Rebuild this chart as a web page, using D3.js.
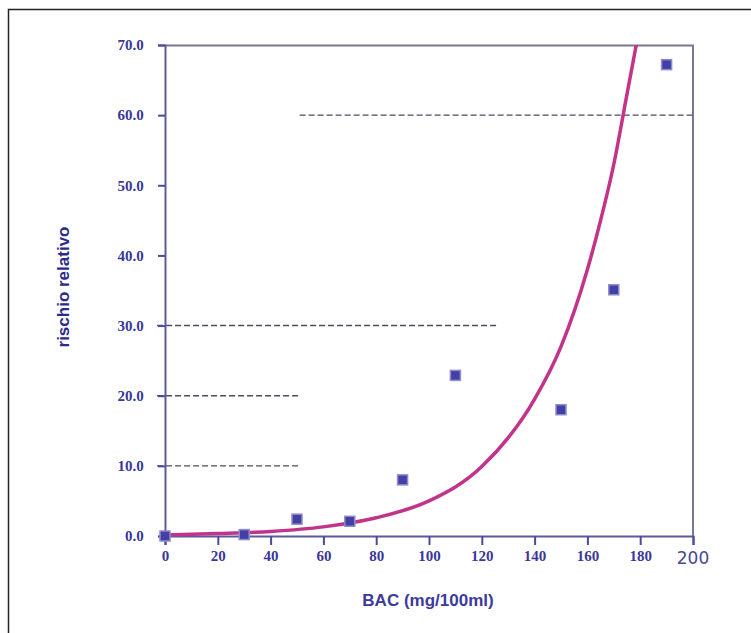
<!DOCTYPE html>
<html>
<head>
<meta charset="utf-8">
<script src="https://cdn.jsdelivr.net/npm/d3@7"></script>
<style>
  body { margin: 0; background: #fff; }
  svg { display: block; }
</style>
</head>
<body>
<svg width="751" height="633"></svg>
<script>
// measured points (BAC, relative risk)
var bac = [0, 30, 50, 70, 90, 110, 150, 170, 190];
var risk = [0, 0.2, 2.4, 2.1, 8.0, 22.9, 18.0, 35.1, 67.2];

// fitted curve
var curveX = [0, 20, 40, 60, 80, 100, 120, 140, 150, 160, 165, 170, 175, 180];
var curveY = [0.15, 0.35, 0.65, 1.3, 2.6, 5.0, 9.9, 19.5, 27, 38, 45, 53, 63, 73];

// dashed reference lines: level, from, to
var refLevel = [60, 30, 20, 10];
var refFrom = [51, -3, -3, -3];
var refTo = [200, 126, 51, 51];

var xTicks = [0, 20, 40, 60, 80, 100, 120, 140, 160, 180, 200];
var yTicks = [0, 10, 20, 30, 40, 50, 60, 70];

var svg = d3.select('svg');
var margin = {top: 45, left: 165, right: 58, bottom: 97};
var width = 751 - margin.left - margin.right;
var height = 633 - margin.top - margin.bottom;

// outer frame (runs off the page right and bottom)
svg.append('path')
  .attr('d', 'M8.5,640V9.5H760')
  .attr('fill', 'none')
  .attr('stroke', '#222')
  .attr('stroke-width', 1.5);

var g = svg.append('g')
  .attr('transform', 'translate(' + [margin.left, margin.top] + ')');

var x = d3.scaleLinear().domain([0, 200]).range([0, width]);
var y = d3.scaleLinear().domain([0, 70]).range([height, 0]);

g.append('clipPath').attr('id', 'clip')
  .append('rect').attr('x', -10).attr('y', 0).attr('width', width + 10).attr('height', height + 10);

// top and right borders
g.append('path')
  .attr('d', 'M0,0.5H' + width + 'V' + height)
  .attr('fill', 'none')
  .attr('stroke', '#7a7890')
  .attr('stroke-width', 2);

// dashed lines
refLevel.forEach(function(v, i) {
  g.append('line')
    .attr('x1', x(refFrom[i])).attr('x2', x(refTo[i]))
    .attr('y1', y(v)).attr('y2', y(v))
    .attr('stroke', '#4c4b60')
    .attr('stroke-width', 1.4)
    .attr('stroke-dasharray', '6,3');
});

// axes
var xAxis = d3.axisBottom(x).tickValues(xTicks).tickSize(9).tickFormat(function(d) { return d === 200 ? '' : d; });
var yAxis = d3.axisLeft(y).tickValues(yTicks).tickSize(7).tickFormat(d3.format('.1f'));

var gx = g.append('g').attr('transform', 'translate(0,' + height + ')').call(xAxis);
var gy = g.append('g').call(yAxis);

[gx, gy].forEach(function(a) {
  a.select('.domain').attr('stroke', '#5c5a9c').attr('stroke-width', 2);
  a.selectAll('.tick line').attr('stroke', '#4c4aa0').attr('stroke-width', 2);
  a.selectAll('.tick text')
    .attr('fill', '#3a3896')
    .style('font-family', '"Liberation Serif", serif')
    .style('font-weight', 'bold')
    .style('font-size', '15px');
});
gx.selectAll('.tick text').attr('dy', '0.85em');
gy.selectAll('.tick text').attr('dx', '-0.75em');

// "200" label in a different font
g.append('text')
  .attr('x', x(200))
  .attr('y', height + 28)
  .attr('text-anchor', 'middle')
  .attr('fill', '#4a4890')
  .style('font-family', '"DejaVu Sans", sans-serif')
  .style('font-size', '17px')
  .text('200');

// curve
var curveData = curveX.map(function(d, i) { return [d, curveY[i]]; });
g.append('path')
  .datum(curveData)
  .attr('clip-path', 'url(#clip)')
  .attr('fill', 'none')
  .attr('stroke', '#c2338a')
  .attr('stroke-width', 3.5)
  .attr('d', d3.line()
    .x(function(d) { return x(d[0]); })
    .y(function(d) { return y(d[1]); })
    .curve(d3.curveMonotoneX));

// points
var pts = bac.map(function(d, i) { return {x: d, y: risk[i]}; });
g.selectAll('rect.pt')
  .data(pts)
  .enter().append('rect')
  .attr('class', 'pt')
  .attr('x', function(d) { return x(d.x) - 5; })
  .attr('y', function(d) { return y(d.y) - 5; })
  .attr('width', 10)
  .attr('height', 10)
  .attr('fill', '#4240a6')
  .attr('stroke', '#8e8cc8')
  .attr('stroke-width', 1.5);

// axis titles
svg.append('text')
  .attr('x', 428)
  .attr('y', 606)
  .attr('text-anchor', 'middle')
  .attr('fill', '#3c3a9a')
  .style('font-family', '"Liberation Sans", Arial, sans-serif')
  .style('font-weight', 'bold')
  .style('font-size', '17px')
  .text('BAC (mg/100ml)');

svg.append('text')
  .attr('transform', 'translate(69,287) rotate(-90)')
  .attr('text-anchor', 'middle')
  .attr('fill', '#2c2a8c')
  .style('font-family', '"Liberation Sans Narrow", "Liberation Sans", Arial, sans-serif')
  .style('font-weight', 'bold')
  .style('font-size', '17px')
  .text('rischio relativo');
</script>
</body>
</html>
